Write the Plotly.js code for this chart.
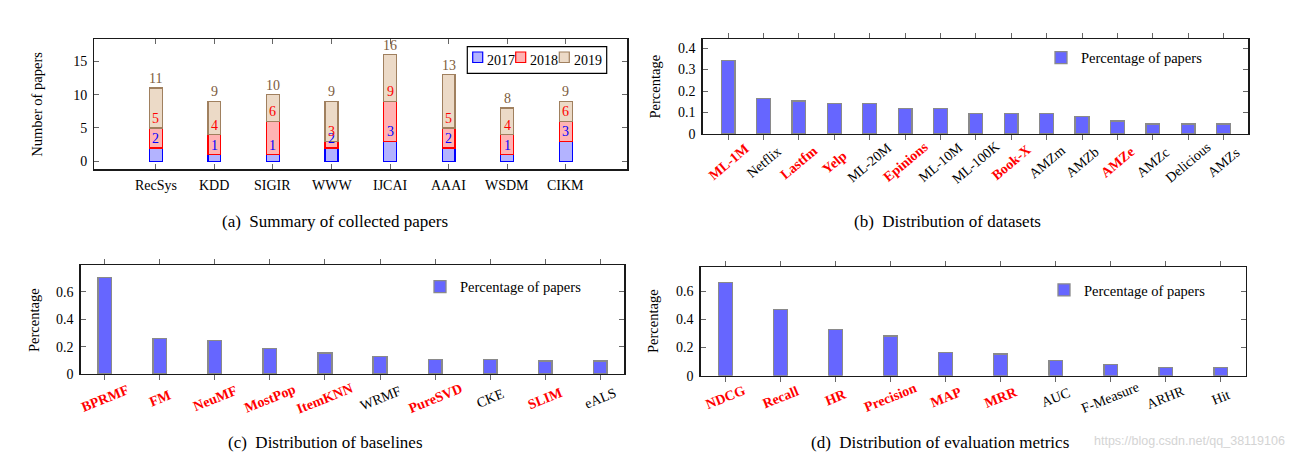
<!DOCTYPE html>
<html><head><meta charset="utf-8">
<script src="https://cdn.plot.ly/plotly-3.0.1.min.js"></script>
<style>html,body{margin:0;padding:0;background:#fff}#chart{width:1294px;height:460px}</style>
</head><body><div id="chart"></div>
<script>
// ---------- (a) Summary of collected papers ----------
const venues = ['RecSys','KDD','SIGIR','WWW','IJCAI','AAAI','WSDM','CIKM'];
const papers2017 = [2,1,1,2,3,2,1,3];
const papers2018 = [3,3,5,1,6,3,3,3];
const papers2019 = [6,5,4,6,7,8,4,3];
const years = ['2017','2018','2019'];
// ---------- (b) Distribution of datasets ----------
const datasets = ['ML-1M','Netflix','Lastfm','Yelp','ML-20M','Epinions','ML-10M','ML-100K','Book-X','AMZm','AMZb','AMZe','AMZc','Delicious','AMZs'];
const datasetShare = [0.342,0.166,0.154,0.142,0.142,0.119,0.119,0.095,0.095,0.095,0.083,0.060,0.047,0.047,0.047];
const highlightedDatasets = ['ML-1M','Lastfm','Yelp','Epinions','Book-X','AMZe'];
// ---------- (c) Distribution of baselines ----------
const baselines = ['BPRMF','FM','NeuMF','MostPop','ItemKNN','WRMF','PureSVD','CKE','SLIM','eALS'];
const baselineShare = [0.706,0.259,0.247,0.188,0.153,0.130,0.107,0.107,0.094,0.094];
const highlightedBaselines = ['BPRMF','FM','NeuMF','MostPop','ItemKNN','PureSVD','SLIM'];
// ---------- (d) Distribution of evaluation metrics ----------
const metrics = ['NDCG','Recall','HR','Precision','MAP','MRR','AUC','F-Measure','ARHR','Hit'];
const metricShare = [0.660,0.472,0.330,0.283,0.166,0.154,0.107,0.082,0.059,0.059];
const highlightedMetrics = ['NDCG','Recall','HR','Precision','MAP','MRR'];

const legendLabel = 'Percentage of papers';
const captions = ['(a)\u2002Summary of collected papers','(b)\u2002Distribution of datasets',
                  '(c)\u2002Distribution of baselines','(d)\u2002Distribution of evaluation metrics'];
const watermark = 'https://blog.csdn.net/qq_38119106';

// ---------- styling ----------
const W = 1294, H = 460;
const SERIF = 'Liberation Serif, Times New Roman, serif';
const px = v => v / W;
const py = v => 1 - v / H;
const yearFill = ['#b3b3ff','#ffb3b3','#ecdac7'];
const yearLine = ['#0000ff','#ff0000','#a0805f'];
const yearText = ['#0000ff','#ff0000','#7d5c3c'];
const barFill = '#6666ff', barLine = '#8a8a8a';

const traces = [];
[papers2017, papers2018, papers2019].forEach((vals, k) => {
  traces.push({type:'bar', x:venues, y:vals, name:years[k], xaxis:'x', yaxis:'y',
    width:0.22, marker:{color:yearFill[k], line:{color:yearLine[k], width:1.2}},
    showlegend:false, hoverinfo:'x+y'});
});
function pctTrace(cats, vals, xa, ya, w, leg) {
  return {type:'bar', x:cats, y:vals, name:legendLabel, xaxis:xa, yaxis:ya, width:w,
    marker:{color:barFill, line:{color:barLine, width:1.3}}, legend:leg, showlegend:true};
}
traces.push(pctTrace(datasets, datasetShare, 'x2', 'y2', 0.39, 'legend2'));
traces.push(pctTrace(baselines, baselineShare, 'x3', 'y3', 0.25, 'legend3'));
traces.push(pctTrace(metrics, metricShare, 'x4', 'y4', 0.25, 'legend4'));

function xAxis(cats, x0, x1, range, tickdir) {
  return {domain:[px(x0), px(x1)], range:range, type:'category', tickmode:'array',
    tickvals:cats, ticktext:cats, showticklabels:false, ticks:tickdir, ticklen:5,
    tickcolor:'#666', tickwidth:1, mirror:'ticks', showline:true, linecolor:'#1a1a1a',
    linewidth:1.3, showgrid:false, zeroline:false, fixedrange:true};
}
function yAxis(y0, y1, range, dtick) {
  return {domain:[py(y1), py(y0)], range:range, dtick:dtick, tick0:0, ticks:'inside',
    ticklen:5, tickcolor:'#666', mirror:'ticks', showline:true, linecolor:'#1a1a1a',
    linewidth:1.3, showgrid:false, zeroline:false, ticklabelstandoff:3,
    tickfont:{family:SERIF, size:14, color:'#000'}, fixedrange:true};
}

const annotations = [];
// stacked value labels for (a)
venues.forEach((v, i) => {
  const cum = [papers2017[i], papers2017[i]+papers2018[i], papers2017[i]+papers2018[i]+papers2019[i]];
  cum.forEach((c, k) => annotations.push({xref:'x', yref:'y', x:v, y:c, yshift:9.5,
    text:String(c), showarrow:false, xanchor:'center', yanchor:'middle',
    font:{family:SERIF, size:14, color:yearText[k]}}));
});
// category labels
function catLabels(cats, hi, xa, ya, shift, angle) {
  cats.forEach(c => {
    const h = hi.indexOf(c) >= 0;
    annotations.push({xref:xa, yref:ya + ' domain', x:c, y:0, yshift:shift, textangle:angle,
      text: h ? '<b>' + c + '</b>' : c, showarrow:false, xanchor:'center', yanchor:'middle',
      font:{family:SERIF, size:14, color: h ? '#ff0000' : '#000'}});
  });
}
catLabels(venues, [], 'x', 'y', -16, 0);
catLabels(datasets, highlightedDatasets, 'x2', 'y2', -28, -40);
catLabels(baselines, highlightedBaselines, 'x3', 'y3', -24, -22);
catLabels(metrics, highlightedMetrics, 'x4', 'y4', -22, -22);

// axis titles
[['Number of papers', 37.5, 104.3], ['Percentage', 655, 86.5],
 ['Percentage', 34, 320], ['Percentage', 652.5, 321.5]].forEach(t => {
  annotations.push({xref:'paper', yref:'paper', x:px(t[1]), y:py(t[2]), text:t[0],
    textangle:-90, showarrow:false, xanchor:'center', yanchor:'middle',
    font:{family:SERIF, size:14.5, color:'#000'}});
});
// captions
[[captions[0], 335, 221], [captions[1], 947, 221], [captions[2], 325, 442], [captions[3], 940, 442]]
  .forEach(t => annotations.push({xref:'paper', yref:'paper', x:px(t[1]), y:py(t[2]), text:t[0],
    showarrow:false, xanchor:'center', yanchor:'middle', font:{family:SERIF, size:17, color:'#000'}}));
// watermark
annotations.push({xref:'paper', yref:'paper', x:px(1287), y:py(441), text:watermark, showarrow:false,
  xanchor:'right', yanchor:'middle', font:{family:'Liberation Sans, Arial, sans-serif', size:12.5, color:'#d4d4d4'}});

// legend for (a): boxed, horizontal
const shapes = [{type:'rect', xref:'paper', yref:'paper', x0:px(467.3), x1:px(606.7), y0:py(73.3), y1:py(46.7),
  line:{color:'#000', width:1.2}, fillcolor:'#fff'}];
const legX = [472.7, 515.7, 559.3];
years.forEach((yr, k) => {
  shapes.push({type:'rect', xref:'paper', yref:'paper', x0:px(legX[k]), x1:px(legX[k]+10),
    y0:py(62.5), y1:py(52), line:{color:yearLine[k], width:1.2}, fillcolor:yearFill[k]});
  annotations.push({xref:'paper', yref:'paper', x:px(legX[k]+12.5), y:py(60), text:yr, showarrow:false,
    xanchor:'left', yanchor:'middle', font:{family:SERIF, size:14, color:'#000'}});
});

function leg(textX, yc) {
  return {x:px(textX - 42), y:py(yc), xanchor:'left', yanchor:'middle', bgcolor:'rgba(0,0,0,0)',
    borderwidth:0, itemwidth:30, font:{family:SERIF, size:14.5, color:'#000'}};
}

const layout = {
  width:W, height:H, margin:{l:0, r:0, t:0, b:0}, paper_bgcolor:'#fff', plot_bgcolor:'#fff',
  barmode:'stack', bargap:0, showlegend:true, font:{family:SERIF},
  xaxis: xAxis(venues, 94.3, 627.3, [-1.05, 8.05], 'inside'),
  yaxis: yAxis(39.3, 169.3, [-1.2, 18.3], 5),
  xaxis2: xAxis(datasets, 702.7, 1248.3, [-0.72, 14.7], 'outside'),
  yaxis2: yAxis(39, 134, [0, 0.442], 0.1),
  xaxis3: xAxis(baselines, 80.7, 624.3, [-0.44, 9.44], 'outside'),
  yaxis3: yAxis(265.3, 374, [0, 0.795], 0.2),
  xaxis4: xAxis(metrics, 700.7, 1245.7, [-0.45, 9.45], 'outside'),
  yaxis4: yAxis(267.3, 375.7, [0, 0.77], 0.2),
  legend2: leg(1083, 57.7),
  legend3: leg(462, 286.7),
  legend4: leg(1086, 290),
  annotations: annotations,
  shapes: shapes
};
layout.yaxis2.anchor = 'x2'; layout.xaxis2.anchor = 'y2';
layout.yaxis3.anchor = 'x3'; layout.xaxis3.anchor = 'y3';
layout.yaxis4.anchor = 'x4'; layout.xaxis4.anchor = 'y4';
layout.yaxis.anchor = 'x'; layout.xaxis.anchor = 'y';

Plotly.newPlot('chart', traces, layout, {displayModeBar:false, staticPlot:true});
</script>
</body></html>
